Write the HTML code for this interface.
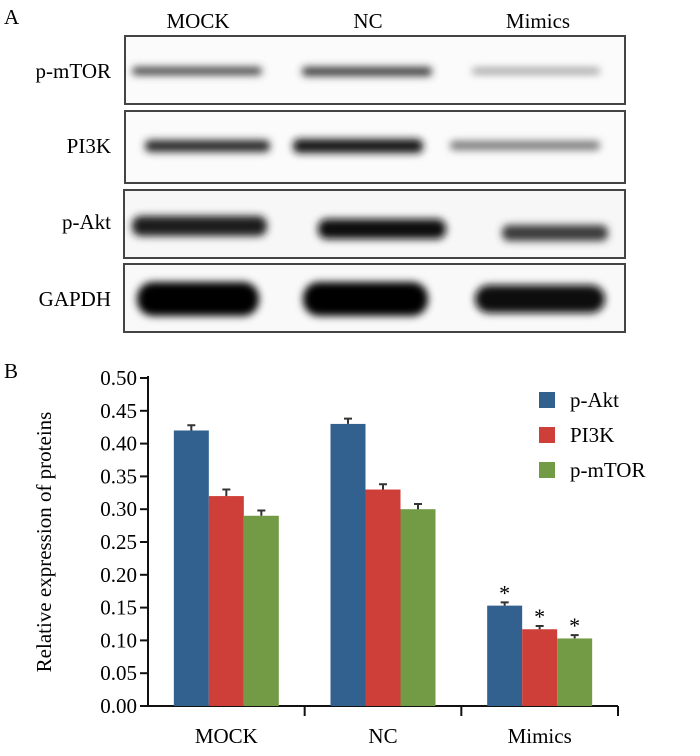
<!DOCTYPE html>
<html><head><meta charset="utf-8"><style>
body{margin:0;background:#fff;}
svg, svg text{font-family:"Liberation Serif","Times New Roman","DejaVu Serif",serif;}
</style></head><body>
<svg width="700" height="751" viewBox="0 0 700 751" font-family="Liberation Serif, serif">
<defs>
<filter id="blur" x="-20%" y="-150%" width="140%" height="400%"><feGaussianBlur stdDeviation="4"/></filter>
</defs>
<text x="4" y="24" font-size="21">A</text>
<text x="198" y="28" font-size="21" text-anchor="middle">MOCK</text>
<text x="368" y="28" font-size="21" text-anchor="middle">NC</text>
<text x="538" y="28" font-size="21" text-anchor="middle">Mimics</text>
<g>
<rect x="125" y="36" width="500" height="68" fill="#fbfbfb" stroke="#444" stroke-width="2"/>
<rect x="132" y="67" width="130" height="8" rx="4" fill="#444" filter="url(#blur)"/>
<rect x="302" y="67" width="130" height="9" rx="4" fill="#3a3a3a" filter="url(#blur)"/>
<rect x="472" y="68" width="128" height="6" rx="3" fill="#999" filter="url(#blur)"/>
</g>
<text x="111" y="78" font-size="21" text-anchor="end">p-mTOR</text>
<g>
<rect x="125" y="111" width="500" height="72" fill="#fbfbfb" stroke="#444" stroke-width="2"/>
<rect x="145" y="140" width="125" height="12" rx="5" fill="#2a2a2a" filter="url(#blur)"/>
<rect x="293" y="139" width="130" height="14" rx="6" fill="#151515" filter="url(#blur)"/>
<rect x="450" y="141" width="150" height="9" rx="4" fill="#777" filter="url(#blur)"/>
</g>
<text x="111" y="153" font-size="21" text-anchor="end">PI3K</text>
<g>
<rect x="124" y="190" width="501" height="68" fill="#f7f7f7" stroke="#444" stroke-width="2"/>
<rect x="132" y="216" width="135" height="20" rx="9" fill="#1a1a1a" filter="url(#blur)"/>
<rect x="318" y="219" width="128" height="20" rx="9" fill="#111" filter="url(#blur)"/>
<rect x="502" y="225" width="106" height="16" rx="7" fill="#3a3a3a" filter="url(#blur)"/>
</g>
<text x="111" y="229" font-size="21" text-anchor="end">p-Akt</text>
<g>
<rect x="124" y="264" width="501" height="68" fill="#f9f9f9" stroke="#444" stroke-width="2"/>
<rect x="137" y="282" width="122" height="34" rx="16" fill="#050505" filter="url(#blur)"/>
<rect x="303" y="282" width="125" height="34" rx="16" fill="#050505" filter="url(#blur)"/>
<rect x="475" y="285" width="130" height="28" rx="14" fill="#080808" filter="url(#blur)"/>
</g>
<text x="111" y="306" font-size="21" text-anchor="end">GAPDH</text>
<text x="4" y="378" font-size="21">B</text>
<g id="chart"></g>
</svg>
<script>
const categories = ["MOCK", "NC", "Mimics"];
const seriesNames = ["p-Akt", "PI3K", "p-mTOR"];
const pAkt = [0.42, 0.43, 0.153];
const pi3k = [0.32, 0.33, 0.117];
const pmtor = [0.29, 0.30, 0.103];
const errAkt = [0.008, 0.008, 0.005];
const errPi3k = [0.01, 0.008, 0.005];
const errMtor = [0.008, 0.008, 0.005];
const significant = [false, false, true];
const yTicks = ["0.00","0.05","0.10","0.15","0.20","0.25","0.30","0.35","0.40","0.45","0.50"];
const colors = ["#33618f", "#cf3f3a", "#739b45"];

const NS = "http://www.w3.org/2000/svg";
const g = document.getElementById("chart");
const X0 = 148, X1 = 618, Y0 = 706, Y1 = 378, YMAX = 0.5;
const y = v => Y0 - v / YMAX * (Y0 - Y1);
const catW = (X1 - X0) / categories.length;
const barW = 35;
const bx = (ci, si) => X0 + catW * ci + catW / 2 - 1.5 * barW + si * barW;
function mk(tag, attrs, parent) {
  const e = document.createElementNS(NS, tag);
  for (const k in attrs) e.setAttribute(k, attrs[k]);
  (parent || g).appendChild(e);
  return e;
}
let ax = mk("line", {x1: X0, y1: Y1 - 2, x2: X0, y2: Y0, stroke: "#111", "stroke-width": 2});


let xa = mk("line", {x1: X0 - 1, y1: Y0, x2: X1, y2: Y0, stroke: "#111", "stroke-width": 2});


yTicks.forEach(t => {
  const v = parseFloat(t);
  const tk = mk("line", {x1: X0 - 8, y1: y(v), x2: X0, y2: y(v), stroke: "#111", "stroke-width": 2});
  
  
  const tl = mk("text", {x: X0 - 11, y: y(v) + 7, "font-size": 21, "text-anchor": "end"});
  tl.textContent = t;
  
  
});
const yt = mk("text", {x: 0, y: 0, "font-size": 21, "text-anchor": "middle", transform: "translate(51," + ((Y0 + Y1) / 2) + ") rotate(-90)"});
yt.textContent = "Relative expression of proteins";


categories.forEach((c, i) => {
  const xe = X0 + catW * (i + 1);
  const tk = mk("line", {x1: xe, y1: Y0, x2: xe, y2: Y0 + 10, stroke: "#111", "stroke-width": 2});
  
  
  const tl = mk("text", {x: X0 + catW * i + catW / 2, y: Y0 + 37, "font-size": 21, "text-anchor": "middle"});
  tl.textContent = c;
  
  
});
const series = [pAkt, pi3k, pmtor];
const errs = [errAkt, errPi3k, errMtor];
series.forEach((vals, si) => {
  vals.forEach((v, ci) => {
    const x = bx(ci, si);
    const b = mk("rect", {x: x, y: y(v), width: barW, height: Y0 - y(v), fill: colors[si]});
    
    
    const cx = x + barW / 2, top = y(v + errs[si][ci]);
    const e = mk("path", {d: "M" + cx + " " + y(v) + "V" + top + "M" + (cx - 4) + " " + top + "H" + (cx + 4), stroke: "#333", "stroke-width": 2, fill: "none"});
    
    
    if (significant[ci]) {
      const s = mk("text", {x: cx, y: top - 2, "font-size": 22, "text-anchor": "middle"});
      s.textContent = "*";
      
      
    }
  });
});
seriesNames.forEach((n, i) => {
  const cy = 400 + i * 35;
  const sw = mk("rect", {x: 539, y: cy - 8, width: 16, height: 16, fill: colors[i]});
  
  
  const t = mk("text", {x: 570, y: cy + 7, "font-size": 21});
  t.textContent = n;
  
  
});
</script>
</body></html>
